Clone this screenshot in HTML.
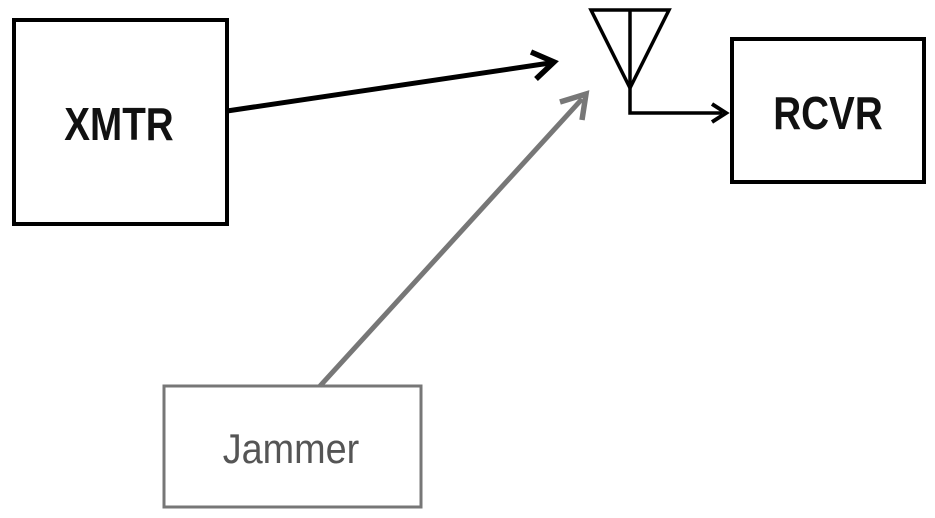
<!DOCTYPE html>
<html><head><style>
html,body{margin:0;padding:0;background:#fff;}
svg{display:block;}
text{font-family:"Liberation Sans",sans-serif;}
</style></head><body>
<svg width="935" height="518" viewBox="0 0 935 518" xmlns="http://www.w3.org/2000/svg">
<rect x="14" y="20" width="213" height="204" fill="none" stroke="#000" stroke-width="4"/>
<text x="119" y="140" font-size="46" font-weight="bold" text-anchor="middle" fill="#111" transform="translate(119 0) scale(0.84 1) translate(-119 0)">XMTR</text>
<rect x="732" y="39" width="192" height="143" fill="none" stroke="#000" stroke-width="4"/>
<text x="828" y="129" font-size="46" font-weight="bold" text-anchor="middle" fill="#111" transform="translate(828 0) scale(0.84 1) translate(-828 0)">RCVR</text>
<rect x="164" y="386" width="257" height="121" fill="none" stroke="#777" stroke-width="3"/>
<text x="291" y="463" font-size="42" text-anchor="middle" fill="#555" transform="translate(291 0) scale(0.9 1) translate(-291 0)">Jammer</text>
<polygon points="591,10 669,10 630,88" fill="none" stroke="#000" stroke-width="3.5" stroke-linejoin="miter"/>
<polyline points="630,10 630,113 722,113" fill="none" stroke="#000" stroke-width="3.5"/>
<polyline points="712,104 726,113 712,122" fill="none" stroke="#000" stroke-width="4"/>
<line x1="227" y1="111" x2="550" y2="63" stroke="#000" stroke-width="5"/>
<polyline points="531,52 554,62 536,79" fill="none" stroke="#000" stroke-width="5.5" stroke-linejoin="miter"/>
<line x1="320" y1="386" x2="582" y2="99" stroke="#777" stroke-width="5"/>
<polyline points="560,102 586,94 582,120" fill="none" stroke="#777" stroke-width="5.5"/>
</svg>
</body></html>
